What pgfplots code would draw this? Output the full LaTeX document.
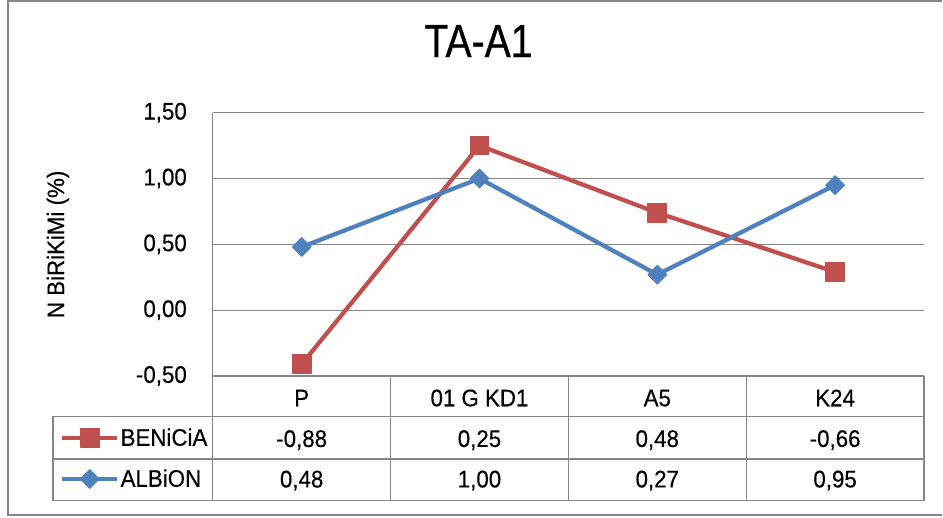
\documentclass[border=0pt]{standalone}
\usepackage{fontspec}
\setmainfont[FakeStretch=0.93, FakeBold=0.4]{Liberation Sans}
\newfontfamily\titlefont[FakeStretch=0.84, FakeBold=0.6]{Liberation Sans}
\usepackage{pgfplots}
\pgfplotsset{compat=1.18}
\definecolor{bred}{HTML}{C0504D}
\definecolor{bblue}{HTML}{4F81BD}
\definecolor{gline}{HTML}{868686}

% positions below are in axis description cs (0..1 over the plot box)
\begin{document}
\begin{tikzpicture}
\begin{axis}[
    scale only axis, width=534pt, height=197.7pt,
    clip=false,
    xmin=0.5, xmax=4.5, ymin=-0.5, ymax=1.5,
    xtick=\empty, ytick={-0.5,0,0.5,1,1.5},
    axis x line*=bottom, axis y line*=left,
    axis line style={gline, line width=1pt},
    ymajorgrids, grid style={gline, line width=1pt},
    major tick length=0pt,
    yticklabel style={anchor=east, inner sep=0pt, xshift=-19.3pt,
        font=\fontsize{18}{20}\selectfont,
        /pgf/number format/.cd, fixed, fixed zerofill, precision=2,
        use comma, assume math mode=true},
    ylabel={N BiRiKiMi (\%)},
    ylabel style={at={(axis description cs:-0.2177,0.5)}, anchor=center,
        font=\fontsize{18}{20}\selectfont},
    title={TA-A1},
    title style={at={(axis description cs:0.3736,1.2417)}, anchor=center,
        font=\titlefont\fontsize{35}{40}\selectfont},
    legend style={at={(axis description cs:-0.2149,-0.3136)}, anchor=west,
        draw=none, fill=none, inner sep=0pt, row sep=0pt, column sep=0pt,
        nodes={inner xsep=1pt, inner ysep=0pt, minimum height=30.8pt,
            font=\fontsize{18}{20}\selectfont}},
    legend cell align=left,
    legend image code/.code={
        \draw[mark repeat=2, mark phase=2, #1]
            plot coordinates {(0pt,0pt) (20.6pt,0pt) (41.2pt,0pt)};},
]
\addplot[bred, line width=3.2pt, line join=round, mark=square*, mark size=7pt,
    mark options={solid, line width=0.75pt, fill=bred}]
    coordinates {(1,-0.41) (2,1.25) (3,0.74) (4,0.29)};
\addlegendentry{BENiCiA}
\addplot[bblue, line width=3.2pt, line join=round, mark=square*, mark size=5pt,
    mark options={solid, rotate=45, line width=0.75pt, fill=bblue}]
    coordinates {(1,0.48) (2,1.00) (3,0.27) (4,0.95)};
\addlegendentry{ALBiON}

% page size and outer frame
\path (axis description cs:-0.29916,-0.53718) rectangle (axis description cs:1.02528,1.42754);
\draw[gline, line width=1.5pt]
    (axis description cs:1.02528,1.42412) -- (axis description cs:-0.28792,1.42412)
    -- (axis description cs:-0.28792,-0.52618) -- (axis description cs:1.02528,-0.52618);

% data table
\draw[gline, line width=1pt]
    (axis description cs:0,0) -- (axis description cs:0,-0.47307)
    (axis description cs:0.25,0) -- (axis description cs:0.25,-0.47307)
    (axis description cs:0.5,0) -- (axis description cs:0.5,-0.47307)
    (axis description cs:0.75,0) -- (axis description cs:0.75,-0.47307)
    (axis description cs:1,0) -- (axis description cs:1,-0.47307)
    (axis description cs:-0.22472,-0.15326) -- (axis description cs:1,-0.15326)
    (axis description cs:-0.22472,-0.31487) -- (axis description cs:1,-0.31487)
    (axis description cs:-0.22472,-0.47307) -- (axis description cs:1,-0.47307)
    (axis description cs:-0.22472,-0.15326) -- (axis description cs:-0.22472,-0.47307);

\tikzset{cell/.style={anchor=base, font=\fontsize{18}{20}\selectfont}}
\node[cell] at (axis description cs:0.125,-0.11495) {P};
\node[cell] at (axis description cs:0.375,-0.11495) {01 G KD1};
\node[cell] at (axis description cs:0.625,-0.11495) {A5};
\node[cell] at (axis description cs:0.875,-0.11495) {K24};
\node[cell] at (axis description cs:0.125,-0.26935) {-0,88};
\node[cell] at (axis description cs:0.375,-0.26935) {0,25};
\node[cell] at (axis description cs:0.625,-0.26935) {0,48};
\node[cell] at (axis description cs:0.875,-0.26935) {-0,66};
\node[cell] at (axis description cs:0.125,-0.42299) {0,48};
\node[cell] at (axis description cs:0.375,-0.42299) {1,00};
\node[cell] at (axis description cs:0.625,-0.42299) {0,27};
\node[cell] at (axis description cs:0.875,-0.42299) {0,95};
\end{axis}
\end{tikzpicture}
\end{document}
